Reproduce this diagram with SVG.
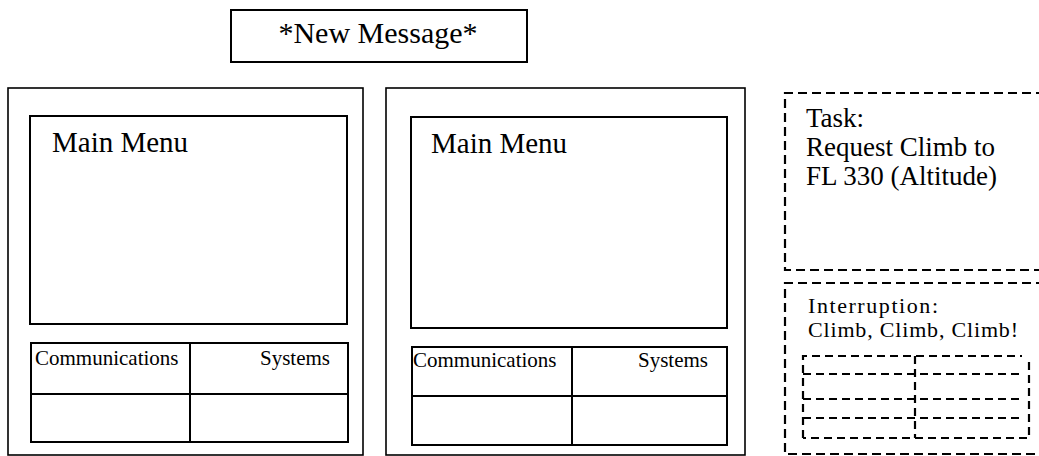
<svg xmlns="http://www.w3.org/2000/svg" width="1039" height="456" viewBox="0 0 1039 456">
<style>
.box{fill:none;stroke:#000;stroke-width:2}
.thin{fill:none;stroke:#000;stroke-width:1.6}
.dash{fill:none;stroke:#000;stroke-width:2.2;stroke-dasharray:9 5}
.dash2{fill:none;stroke:#000;stroke-width:2.2;stroke-dasharray:8 5}
text{font-family:"Liberation Serif","Times New Roman",serif;fill:#000}
.big{font-size:30px}
.menu{font-size:29px}
.cell{font-size:21px}
.task{font-size:27px}
.intr{font-size:22px}
</style>
<rect width="1039" height="456" fill="#fff"/>
<g id="new-message">
<rect class="box" x="231" y="10" width="296" height="52"/>
<text class="big" x="378" y="43" text-anchor="middle">*New Message*</text>
</g>
<g id="screen-left">
<rect class="thin" x="8" y="88" width="355" height="367"/>
<g id="menu-left">
<rect class="box" x="30" y="116" width="317" height="208"/>
<text class="menu" x="52" y="152">Main Menu</text>
</g>
<g id="grid-left">
<rect class="box" x="31" y="343" width="317" height="99"/>
<line class="box" x1="190" y1="343" x2="190" y2="442"/>
<line class="box" x1="31" y1="394" x2="348" y2="394"/>
<text class="cell" x="35" y="365">Communications</text>
<text class="cell" x="330" y="365" text-anchor="end">Systems</text>
</g>
</g>
<g id="screen-middle">
<rect class="thin" x="386" y="88" width="359" height="367"/>
<g id="menu-middle">
<rect class="box" x="411" y="117" width="316" height="211"/>
<text class="menu" x="431" y="153">Main Menu</text>
</g>
<g id="grid-middle">
<rect class="box" x="412" y="347" width="315" height="98"/>
<line class="box" x1="572" y1="347" x2="572" y2="445"/>
<line class="box" x1="412" y1="396" x2="727" y2="396"/>
<text class="cell" x="413" y="367">Communications</text>
<text class="cell" x="708" y="367" text-anchor="end">Systems</text>
</g>
</g>
<g id="task">
<path class="dash" d="M1045,93 H785 V270 H1045"/>
<text class="task" x="806" y="127">Task:</text>
<text class="task" x="806" y="156">Request Climb to</text>
<text class="task" x="806" y="185">FL 330 (Altitude)</text>
</g>
<g id="interruption">
<path class="dash" d="M1045,283 H785 V454 H1045"/>
<text class="intr" x="808" y="313" textLength="130" lengthAdjust="spacing">Interruption:</text>
<text class="intr" x="808" y="337" textLength="210" lengthAdjust="spacing">Climb, Climb, Climb!</text>
<g id="interruption-grid">
<path class="dash2" d="M803,438 V356 H1022"/>
<path class="dash2" d="M1029,362 V438 H803"/>
<line class="dash2" x1="803" y1="374" x2="1022" y2="374"/>
<line class="dash2" x1="803" y1="399" x2="1022" y2="399"/>
<line class="dash2" x1="803" y1="418" x2="1022" y2="418"/>
<line class="dash2" x1="915" y1="356" x2="915" y2="438"/>
</g>
</g>
</svg>
